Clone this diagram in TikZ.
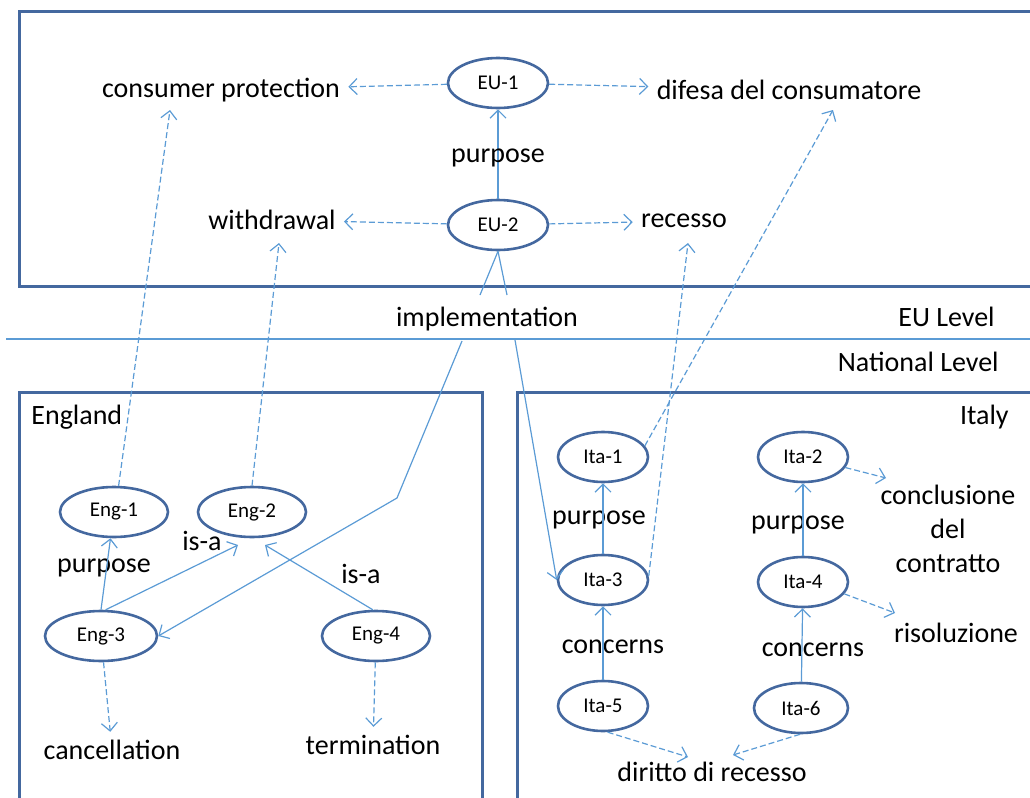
\documentclass[tikz,border=0pt]{standalone}
\usepackage{fontspec}
\setmainfont{Carlito}
\usepackage{tikz}
\usetikzlibrary{shapes,arrows.meta}
\definecolor{ovalblue}{HTML}{44689F}
\definecolor{lineblue}{HTML}{5B9BD5}
\tikzstyle{concept}=[ellipse,draw=ovalblue,line width=1.3pt,minimum width=50pt,minimum height=25pt,inner sep=0pt,font=\fontsize{10.5}{12}\selectfont]
\tikzstyle{engconcept}=[concept,minimum width=54pt]
\tikzstyle{itaconcept}=[concept,minimum width=45pt]
\tikzstyle{term}=[inner sep=4pt,font=\fontsize{14}{17}\selectfont]
\tikzstyle{caption}=[inner sep=0pt,font=\fontsize{14}{17}\selectfont]
\tikzstyle{link}=[draw=lineblue,line width=0.6pt]
\tikzstyle{rel}=[link,-{Straight Barb[length=4pt,width=8pt]}]
\tikzstyle{trans}=[rel,dash pattern=on 3pt off 1.5pt]
\tikzstyle{levelbox}=[draw=ovalblue,line width=1.5pt]
\newcommand{\pxunit}{0.5pt}

\begin{document}
\begin{tikzpicture}[x=\pxunit,y=-\pxunit]
    \useasboundingbox (0,0) rectangle (1030,798);

    % frames
    \draw[levelbox] (1030,11) -- (19,11) -- (19,286) -- (1030,286);
    \draw[levelbox] (19,798) -- (19,392) -- (482,392) -- (482,798);
    \draw[levelbox] (517,798) -- (517,392) -- (1030,392);
    \draw[link] (6,339) -- (1030,339);

    \node[caption,anchor=east] (EUL) at (995,317) {EU Level};
    \node[caption,anchor=east] (NATL) at (999,362) {National Level};
    \node[caption,anchor=west] (ENG) at (31,417) {England};
    \node[caption,anchor=east] (ITA) at (1009,417) {Italy};

    % EU level
    \node[concept] (EU1) at (498,83)  {EU-1};
    \node[concept] (EU2) at (498,225) {EU-2};
    \node[term] (CPROT) at (221,90)  {consumer protection};
    \node[term] (DIFESA) at (789,90) {difesa del consumatore};
    \node[term] (WITHDR) at (272,220) {withdrawal};
    \node[term] (RECESSO) at (684,221) {recesso};
    \node[term] (IMPL) at (487,319) {implementation};

    \draw[rel] (EU2) -- node[term,yshift=-2pt] {purpose} (EU1);
    \draw[trans] (EU1) -- (CPROT);
    \draw[trans] (EU1) -- (DIFESA);
    \draw[trans] (EU2) -- (WITHDR);
    \draw[trans] (EU2) -- (RECESSO);

    % England
    \node[engconcept] (ENG1) at (114,512) {Eng-1};
    \node[engconcept] (ENG2) at (252,512) {Eng-2};
    \node[concept,minimum width=56pt] (ENG3) at (101,636) {Eng-3};
    \node[engconcept] (ENG4) at (376,636) {Eng-4};
    \node[term] (CANCEL) at (112,750) {cancellation};
    \node[term] (TERMIN) at (373,745) {termination};
    \node[term] (PURPE) at (104,568) {purpose};
    \node[term] (ISAL) at (202,541) {is-a};
    \node[term] (ISAR) at (361,574) {is-a};

    \coordinate (ENG2L) at (238,545);
    \coordinate (ENG2R) at (265,545);
    \coordinate (CPTIP) at (170,110);
    \coordinate (WDTIP) at (279,243);

    \draw[rel] (ENG3.north) -- (ENG1);
    \draw[rel] (ENG3.80) -- (ENG2L);
    \draw[rel] (ENG4.97) -- (ENG2R);
    \draw[trans] (ENG3) -- (CANCEL);
    \draw[trans] (ENG4) -- (TERMIN);
    \draw[trans] (ENG1.80) -- (CPTIP);
    \draw[trans] (ENG2.north) -- (WDTIP);

    % Italy
    \node[itaconcept] (ITA1) at (603,457) {Ita-1};
    \node[itaconcept] (ITA2) at (803,457) {Ita-2};
    \node[itaconcept] (ITA3) at (603,580) {Ita-3};
    \node[itaconcept] (ITA4) at (803,582) {Ita-4};
    \node[itaconcept] (ITA5) at (603,706) {Ita-5};
    \node[concept,minimum width=47pt] (ITA6) at (801,708) {Ita-6};
    \node[term,align=center] (CONCL) at (948,529) {conclusione\\del\\contratto};
    \node[term] (RISOL) at (956,633) {risoluzione};
    \node[term] (DIRITTO) at (712,772) {diritto di recesso};
    \node[term] (PURPI) at (599,520) {purpose};
    \node[term] (PURPJ) at (798,525) {purpose};
    \node[term] (CONCI) at (613,647) {concerns};
    \node[term] (CONCJ) at (813,650) {concerns};

    \coordinate (CONTIP) at (886,478);
    \coordinate (RISTIP) at (895,613);
    \coordinate (DIRL) at (688,757);
    \coordinate (DIRR) at (733,755);
    \coordinate (DFTIP) at (833,110);
    \coordinate (RCTIP) at (688,243);

    \draw[rel] (ITA3) -- (ITA1);
    \draw[rel] (ITA4) -- (ITA2);
    \draw[rel] (ITA5) -- (ITA3);
    \draw[rel] (ITA6) -- (ITA4);
    \draw[trans] (ITA2.-14) -- (CONTIP);
    \draw[trans] (ITA4.-16) -- (RISTIP);
    \draw[trans] (ITA5.-80) -- (DIRL);
    \draw[trans] (ITA6.-92) -- (DIRR);
    \draw[trans] (ITA1.15) -- (DFTIP);
    \draw[trans] (ITA3.5) -- (RCTIP);

    % implementation
    \coordinate (IMPA) at (480,295);
    \coordinate (IMPB) at (507,295);
    \coordinate (IMPC) at (462,341);
    \coordinate (IMPD) at (515,340);
    \coordinate (BEND) at (397,498);
    \draw[link] (EU2.south) -- (IMPA);
    \draw[link] (EU2.south) -- (IMPB);
    \draw[rel] (IMPC) -- (BEND) -- (ENG3.east);
    \draw[rel] (IMPD) -- (ITA3.west);
\end{tikzpicture}
\end{document}
